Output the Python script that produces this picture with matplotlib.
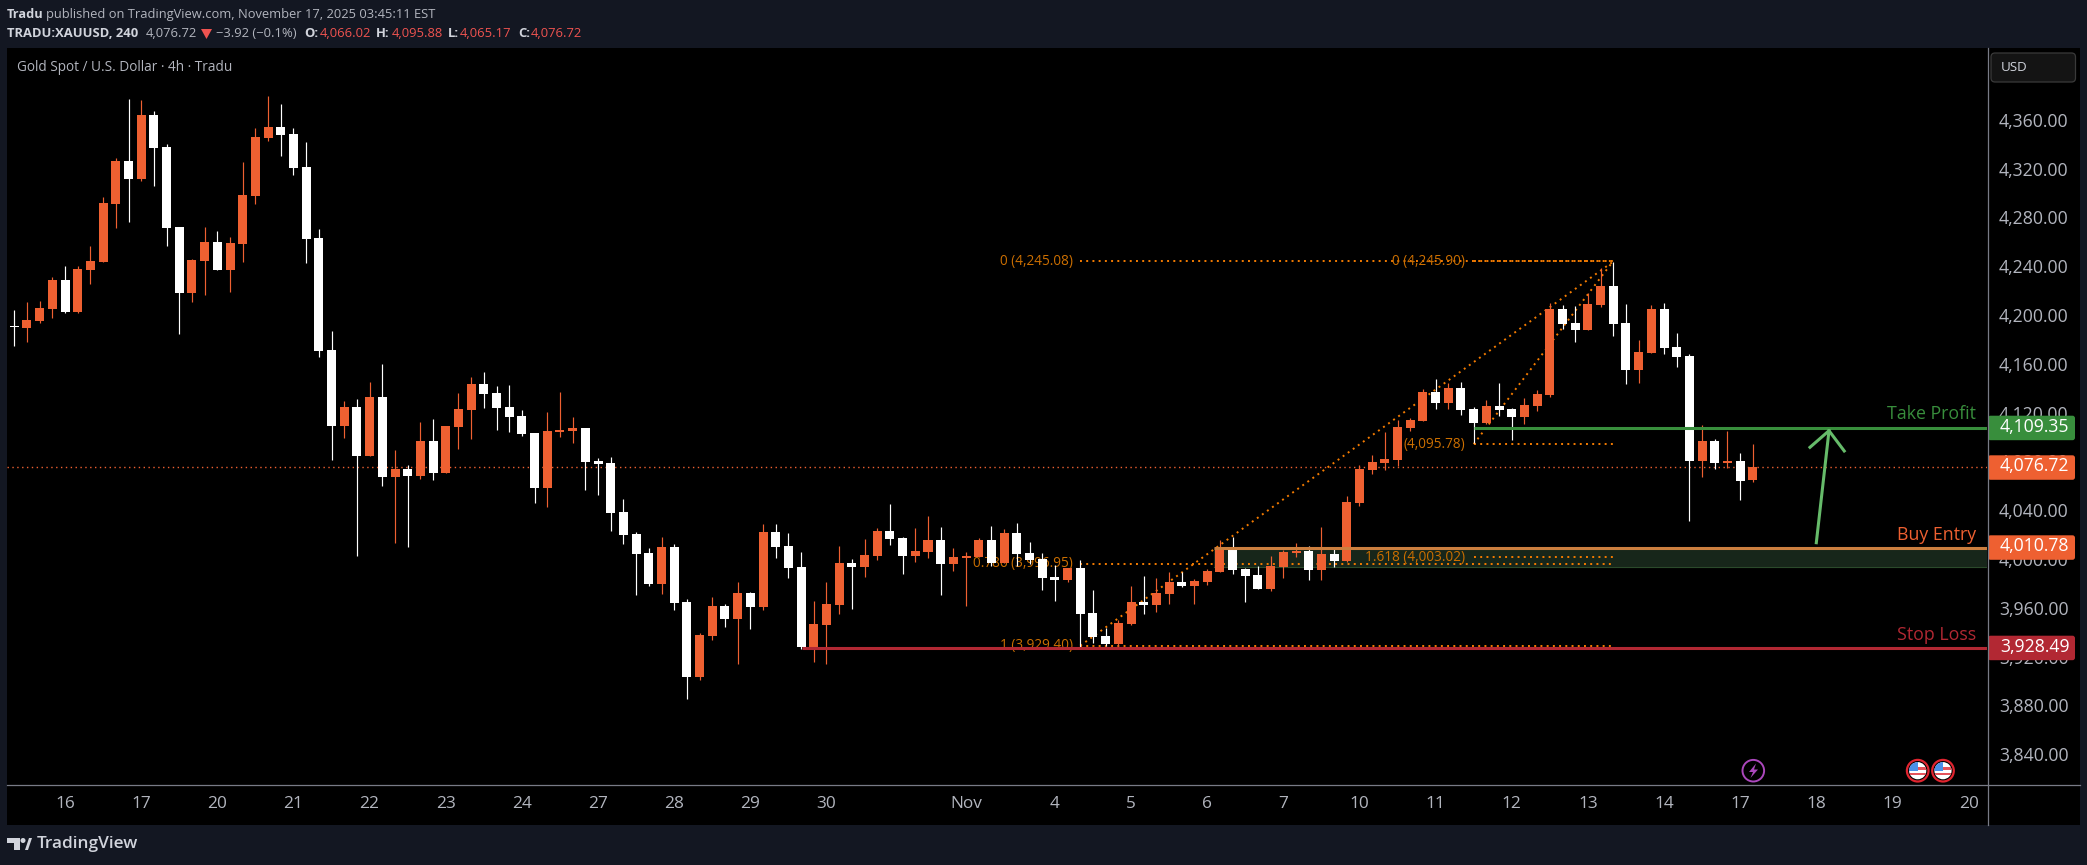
import matplotlib
matplotlib.use('Agg')
import matplotlib.pyplot as plt
from matplotlib.patches import Rectangle, Circle, Polygon, FancyBboxPatch
from matplotlib.transforms import ScaledTranslation

plt.rcParams['font.family'] = ['Open Sans', 'DejaVu Sans']

# candles, 4h bars
opens = [
    4192.6,4191.0,4196.7,4206.5,4230.3,4204.1,4238.5,4245.1,4292.6,4327.8,
    4313.1,4365.5,4339.3,4273.8,4219.7,4245.9,4261.5,4238.5,4259.8,4299.2,
    4346.7,4355.7,4350.0,4322.9,4264.7,4172.9,4110.6,4126.2,4086.1,4134.4,
    4068.8,4075.4,4069.7,4098.4,4072.1,4109.8,4123.8,4145.1,4137.7,4126.2,
    4118.8,4104.9,4059.8,4105.7,4106.6,4109.0,4081.9,4080.3,4040.2,4022.1,
    4006.6,3981.1,4011.5,3966.4,3905.2,3938.5,3963.1,3952.5,3973.8,3962.3,
    4023.8,4012.3,3995.1,3929.5,3947.6,3963.9,3998.4,3995.1,4004.1,4024.6,
    4018.9,4004.1,4007.4,4017.2,3997.5,4002.5,4003.3,4017.2,3998.4,4022.9,
    4006.6,4001.6,3986.9,3984.4,3994.3,3957.4,3938.5,3932.0,3948.4,3966.4,
    3963.9,3973.0,3982.8,3979.5,3982.8,3991.0,4009.0,3993.4,3988.5,3977.1,
    3995.1,4006.6,4008.2,3992.6,4005.7,3999.9,4047.5,4074.6,4080.3,4082.8,
    4109.0,4114.7,4138.5,4129.5,4141.8,4124.6,4113.1,4127.0,4124.6,4118.0,
    4127.0,4136.1,4206.5,4195.1,4189.3,4209.8,4225.4,4195.1,4156.5,4170.5,
    4206.5,4175.4,4168.0,4081.9,4098.4,4080.3,4081.9,4066.02,
]
highs = [
    4205.7,4212.3,4213.1,4232.8,4241.8,4241.8,4258.2,4298.3,4330.3,4378.7,
    4377.8,4368.8,4341.8,4273.8,4247.5,4273.8,4270.5,4265.6,4327.0,4354.9,
    4381.1,4374.6,4354.9,4343.4,4272.1,4188.5,4131.1,4132.8,4146.7,4161.5,
    4091.0,4078.7,4113.9,4116.4,4110.6,4137.7,4150.8,4154.9,4143.4,4144.3,
    4123.8,4104.9,4122.1,4138.5,4118.0,4109.0,4084.4,4085.3,4050.8,4023.8,
    4010.6,4019.7,4013.9,3968.9,3941.0,3970.5,3964.8,3982.8,3974.6,4030.3,
    4030.3,4022.9,4007.4,3967.2,3982.8,4012.3,4001.6,4018.0,4027.0,4046.7,
    4019.7,4027.0,4036.9,4027.9,4010.6,4007.4,4018.9,4028.7,4026.2,4031.1,
    4015.6,4006.6,3996.7,3994.3,4000.8,3976.2,3945.1,3951.6,3979.5,3987.7,
    3986.0,3991.0,3991.0,3985.2,3993.4,4017.2,4019.7,3994.3,3995.9,4004.1,
    4009.0,4014.8,4012.3,4027.9,4009.8,4053.3,4078.7,4086.9,4105.7,4115.6,
    4117.2,4141.0,4149.2,4145.9,4146.7,4126.2,4132.0,4145.9,4125.4,4133.6,
    4140.2,4211.5,4209.8,4209.0,4219.7,4240.1,4245.1,4210.6,4181.1,4209.8,
    4211.5,4186.9,4169.7,4111.5,4100.0,4106.6,4088.5,4095.88,
]
lows = [
    4176.2,4179.5,4195.1,4199.2,4203.3,4203.3,4227.0,4245.1,4272.9,4277.8,
    4311.5,4307.4,4258.2,4186.1,4212.3,4218.0,4238.5,4220.5,4245.1,4292.6,
    4344.2,4331.9,4316.4,4244.2,4167.2,4082.8,4101.1,4004.4,4086.1,4061.5,
    4014.8,4011.8,4067.2,4066.4,4072.1,4091.8,4100.0,4125.4,4107.4,4105.7,
    4102.5,4047.5,4044.3,4101.6,4096.7,4058.2,4054.1,4024.6,4013.9,3972.1,
    3979.5,3973.0,3959.8,3886.9,3902.5,3935.3,3945.9,3915.6,3944.3,3959.8,
    4002.5,3986.0,3927.9,3917.2,3915.6,3956.6,3960.7,3986.9,4000.8,4013.1,
    3989.3,3999.2,4002.5,3972.1,3991.8,3963.1,4003.3,3995.9,3998.4,3995.9,
    3997.5,3976.2,3967.2,3982.8,3929.5,3932.8,3930.3,3930.3,3947.6,3956.6,
    3958.2,3964.8,3978.7,3964.8,3980.3,3991.0,3989.3,3966.4,3977.1,3975.4,
    3986.0,4003.3,3984.4,3984.4,3995.1,3999.2,4045.1,4071.3,4074.6,4077.9,
    4106.6,4114.7,4124.6,4124.6,4119.7,4096.7,4112.3,4118.8,4099.2,4112.3,
    4122.9,4134.4,4190.2,4179.5,4189.3,4208.2,4184.4,4145.1,4145.9,4170.5,
    4169.7,4159.0,4032.8,4068.8,4075.4,4076.2,4050.0,4065.17,
]
closes = [
    4191.8,4197.5,4207.4,4230.3,4204.1,4239.3,4245.9,4293.4,4327.8,4313.1,
    4365.5,4338.5,4272.9,4219.7,4246.7,4261.5,4238.5,4260.6,4300.0,4347.5,
    4355.7,4349.1,4322.1,4263.9,4172.1,4110.6,4126.2,4086.1,4134.4,4068.8,
    4075.4,4069.7,4098.4,4072.1,4110.6,4124.6,4145.1,4136.9,4125.4,4118.0,
    4104.1,4059.8,4106.6,4107.4,4109.0,4081.1,4079.5,4039.3,4021.3,4005.7,
    3981.1,4011.5,3965.6,3905.2,3939.3,3963.1,3952.5,3973.8,3962.3,4023.8,
    4011.5,3994.3,3929.5,3948.4,3964.8,3998.4,3995.1,4004.9,4024.6,4018.0,
    4004.1,4008.2,4017.2,3997.5,4003.3,4004.1,4017.2,3998.4,4022.9,4005.7,
    4000.8,3986.0,3984.4,3994.3,3956.6,3937.7,3932.0,3949.2,3966.4,3963.9,
    3973.8,3982.8,3979.5,3983.6,3991.8,4009.0,3992.6,3987.7,3977.1,3995.9,
    4007.4,4008.2,3992.6,4005.7,3999.9,4048.4,4075.4,4081.1,4083.6,4109.8,
    4115.6,4138.5,4129.5,4141.8,4123.8,4113.1,4127.0,4123.8,4118.0,4127.8,
    4136.9,4206.5,4194.2,4189.3,4210.6,4225.4,4194.2,4156.5,4171.3,4206.5,
    4174.6,4167.2,4081.9,4098.4,4080.3,4081.9,4065.6,4076.72,
]

# axes labels
day_labels = ['16','17','20','21','22','23','24','27','28','29','30','Nov','4','5','6','7','10',
              '11','12','13','14','17','18','19','20']
day_bars = [4,10,16,22,28,34,40,46,52,58,64,75,82,88,94,100,106,112,118,124,130,136,142,148,154]
price_ticks = [3840,3880,3920,3960,4000,4040,4080,4120,4160,4200,4240,4280,4320,4360]

# levels
last_price = 4076.72
take_profit = 4109.35
buy_entry = 4010.78
stop_loss = 3928.49
zone_low = 3995.0

# fib tools: start bar, end bar, (level price, label)
fib_a_start, fib_end = 84, 126
fib_a = [(4245.5, '0 (4,245.08)'), (3997.6, '0.786 (3,996.95)'), (3930.6, '1 (3,929.40)')]
fib_b_start = 115
fib_b = [(4245.9, '0 (4,245.90)'), (4095.78, '(4,095.78)'), (4003.02, '1.618 (4,003.02)')]

UP = '#ee6031'
DOWN = '#ffffff'
FIB_LINE = '#f57c00'
FIB_TEXT = '#cc6f00'
GREEN = '#388e3c'
RED = '#b22833'
ORANGE_LINE = '#cc7f3f'
HEADER = '#131722'
AXIS_TEXT = '#b2b5be'
AXIS_LINE = '#787b86'

W, H = 2087, 865
fig = plt.figure(figsize=(W / 100, H / 100), dpi=100, facecolor=HEADER)
fig.add_artist(Rectangle((7 / W, (H - 825) / H), (2080 - 7) / W, (825 - 48) / H,
                         transform=fig.transFigure, facecolor='black', edgecolor='none', zorder=-1))

# price chart
ax = fig.add_axes([7 / W, (H - 785) / H, (1987 - 7) / W, (785 - 48) / H], facecolor='black')
ax.set_xlim(-0.575, 155.45)
ax.set_ylim(3816.4, 4420.5)
for s in ax.spines.values():
    s.set_visible(False)

bars = list(range(len(opens)))
colors = [UP if c >= o else DOWN for o, c in zip(opens, closes)]
ax.vlines(bars, lows, highs, colors=colors, linewidth=0.85, zorder=3)
ax.bar(bars, [abs(c - o) for o, c in zip(opens, closes)], bottom=[min(o, c) for o, c in zip(opens, closes)],
       width=0.71, color=colors, linewidth=0, zorder=3)

# zone under the entry level
ax.add_patch(Rectangle((94.5, zone_low), 155.45 - 94.5, buy_entry - zone_low, facecolor='#17261a',
                       edgecolor='none', zorder=1))
ax.plot([94.5, 155.45], [zone_low, zone_low], color='#2b4a2b', lw=0.8, zorder=1)

# fib levels and their trend lines
dots = dict(color=FIB_LINE, lw=1.4, ls=(0, (1, 2.2)), zorder=2)
for price, label in fib_a:
    ax.plot([fib_a_start, fib_end], [price, price], **dots)
    ax.text(83.4, price, label, color=FIB_TEXT, fontsize=9.8, ha='right', va='center', zorder=2)
for price, label in fib_b:
    ax.plot([fib_b_start, fib_end], [price, price], **dots)
    ax.text(114.3, price, label, color=FIB_TEXT, fontsize=9.8, ha='right', va='center', zorder=2)
ax.plot([fib_a_start, fib_end], [fib_a[2][0], fib_a[0][0]], **dots)
ax.plot([fib_b_start, fib_end], [fib_b[1][0], fib_b[0][0]], **dots)

# last price
ax.axhline(last_price, color=UP, lw=1, ls=(0, (1, 2.5)), zorder=2)

# trade levels
ax.plot([115, 155.45], [take_profit, take_profit], color=GREEN, lw=2.2, zorder=4, solid_capstyle='butt')
ax.plot([94.5, 155.45], [buy_entry, buy_entry], color=ORANGE_LINE, lw=2.2, zorder=4, solid_capstyle='butt')
ax.plot([62.1, 155.45], [stop_loss, stop_loss], color=RED, lw=2.2, zorder=4, solid_capstyle='butt')
ax.text(154.6, 4120.5, 'Take Profit', color=GREEN, fontsize=12.8, ha='right', va='center', zorder=5)
ax.text(154.6, 4021.5, 'Buy Entry', color=UP, fontsize=12.8, ha='right', va='center', zorder=5)
ax.text(154.6, 3939.0, 'Stop Loss', color=RED, fontsize=12.8, ha='right', va='center', zorder=5)

# arrow up to the target
ax.plot([142, 143], [4015, 4106.8], color='#66bb6a', lw=2.2, zorder=5)
ax.plot([141.5, 143, 144.2], [4093.2, 4106.8, 4090.2], color='#66bb6a', lw=2.2, zorder=5)

ax.yaxis.tick_right()
ax.set_yticks(price_ticks)
ax.set_yticklabels([f'{p:,.2f}' for p in price_ticks])
ax.set_xticks(day_bars)
ax.set_xticklabels(day_labels)
ax.tick_params(axis='y', length=0, pad=8.6, labelcolor=AXIS_TEXT, labelsize=12.7)
ax.tick_params(axis='x', length=0, pad=8, labelcolor=AXIS_TEXT, labelsize=12.4)
# the scale labels sit a touch above their level
for lab in ax.get_yticklabels():
    lab.set_transform(lab.get_transform() + ScaledTranslation(0, 2 / 100, fig.dpi_scale_trans))

# everything around the chart, in pixels
ov = fig.add_axes([0, 0, 1, 1], facecolor='none')
ov.set_xlim(0, W)
ov.set_ylim(H, 0)
ov.axis('off')

ov.plot([7, 2080], [785, 785], color=AXIS_LINE, lw=0.9)
ov.plot([1987.5, 1987.5], [48, 825], color=AXIS_LINE, lw=0.9)

for value, color, top in [(take_profit, GREEN, 415.7), (last_price, UP, 455.3),
                          (buy_entry, UP, 535.3), (stop_loss, RED, 635.7)]:
    ov.add_patch(FancyBboxPatch((1988, top), 87, 24.5, boxstyle='round,pad=0,rounding_size=2.5',
                                facecolor=color, edgecolor='none'))
    ov.text(2000, top + 11, f'{value:,.2f}', color='white', fontsize=12.7, va='center', ha='left',
            fontweight='medium')

ov.add_patch(FancyBboxPatch((1991, 53), 84.5, 29, boxstyle='round,pad=0,rounding_size=4',
                            facecolor='#141414', edgecolor='#3a3a3a', lw=0.9))
ov.text(2001, 67.5, 'USD', color='#d1d4dc', fontsize=9.6, va='center')

# header
light = '#d1d4dc'
sell = '#ef5350'
ov.text(7, 14.5, 'Tradu', color=light, fontsize=9.2, fontweight='bold', va='center')
ov.text(46, 14.5, 'published on TradingView.com, November 17, 2025 03:45:11 EST', color=AXIS_TEXT,
        fontsize=9.3, va='center')
for x, txt, col, weight in [(7, 'TRADU:XAUUSD, 240', light, 'bold'), (146, '4,076.72', AXIS_TEXT, 'normal'),
                            (216, '\u22123.92 (\u22120.1%)', AXIS_TEXT, 'normal'), (304, 'O:', light, 'bold'),
                            (320, '4,066.02', sell, 'normal'), (376, 'H:', light, 'bold'),
                            (392, '4,095.88', sell, 'normal'), (448, 'L:', light, 'bold'),
                            (460, '4,065.17', sell, 'normal'), (518, 'C:', light, 'bold'),
                            (531, '4,076.72', sell, 'normal')]:
    ov.text(x, 33.5, txt, color=col, fontsize=9.4, fontweight=weight, va='center')
ov.add_patch(Polygon([(201, 29), (212, 29), (206.5, 39)], facecolor=sell, edgecolor='none'))
ov.text(17, 67.3, 'Gold Spot / U.S. Dollar \u00b7 4h \u00b7 Tradu', color=AXIS_TEXT, fontsize=9.8, va='center')

# TradingView logo
logo = '#d1d4dc'
ov.add_patch(Polygon([(7, 838), (19.6, 838), (19.6, 850), (14, 850), (14, 843), (7, 843)], facecolor=logo, edgecolor='none'))
ov.add_patch(Circle((23, 840.5), 2.5, facecolor=logo, edgecolor='none'))
ov.add_patch(Polygon([(25, 850), (29, 838), (32, 838), (28, 850)], facecolor=logo, edgecolor='none'))
ov.text(37, 844, 'TradingView', color=logo, fontsize=12.4, fontweight='semibold', va='center')

# events on the time line
ov.add_patch(Circle((1753.3, 770.7), 10.8, facecolor='none', edgecolor='#ab47bc', lw=1.4))
ov.add_patch(Polygon([(1756, 763.5), (1749, 772), (1753, 772), (1750.5, 778), (1758, 769.5), (1754, 769.5)],
                     facecolor='#ab47bc', edgecolor='none'))
for cx in (1917.7, 1943):
    ov.add_patch(Circle((cx, 770.7), 10.8, facecolor='black', edgecolor='#e0242f', lw=1.6))
    disc = Circle((cx, 770.7), 8.6, facecolor='white', edgecolor='none')
    ov.add_patch(disc)
    for r in [Rectangle((cx - 9, 767), 18, 3, facecolor='#e5535b', edgecolor='none'),
              Rectangle((cx - 9, 772.5), 18, 2.5, facecolor='#e5535b', edgecolor='none'),
              Rectangle((cx - 9, 762), 9, 9, facecolor='#4a90e8', edgecolor='none')]:
        ov.add_patch(r)
        r.set_clip_path(disc)

fig.savefig('out.png', dpi=100, facecolor=HEADER)
